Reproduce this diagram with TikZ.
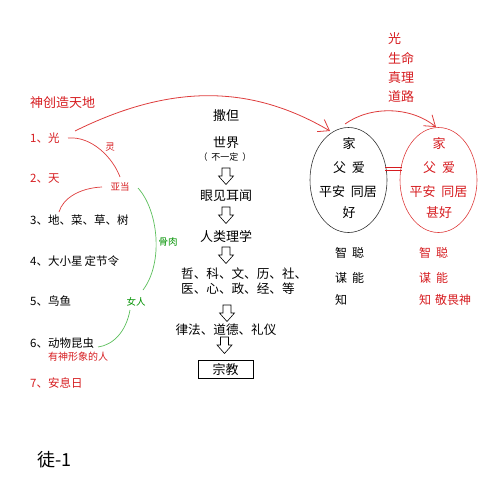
\documentclass[tikz,border=0pt]{standalone}
\usepackage{fontspec}
\setmainfont{Noto Sans CJK SC}
\usetikzlibrary{arrows.meta,shapes.geometric}
\definecolor{tred}{RGB}{214,28,32}
\definecolor{lred}{RGB}{222,60,60}
\definecolor{tgreen}{RGB}{0,145,0}
\definecolor{lgreen}{RGB}{90,190,90}
\begin{document}
\begin{tikzpicture}[x=1pt,y=-1pt,
  lt/.style={inner sep=0pt,anchor=west,font=\fontsize{11.5}{13}\selectfont},
  mt/.style={inner sep=0pt,font=\fontsize{13}{15}\selectfont},
  st/.style={inner sep=0pt,font=\fontsize{9.5}{11}\selectfont},
  rt/.style={inner sep=0pt,anchor=west,font=\fontsize{12}{14}\selectfont},
  oval/.style={ellipse,draw,line width=0.6pt,minimum width=77pt,minimum height=105pt,inner sep=0pt},
  barb/.style={-{Straight Barb[length=10pt,width=14pt,line width=0.8pt]}},
  hollow/.pic={\draw[line width=0.6pt,fill=white] (-4,0)--(4,0)--(4,8)--(7.5,8)--(0,16.5)--(-7.5,8)--(-4,8)--cycle;}
]
\useasboundingbox (0,0) rectangle (500,500);

% left column
\node[lt,tred,font=\fontsize{13}{15}\selectfont] (title) at (30,103) {神创造天地};
\node[lt,tred] (l1) at (30,138) {1、光};
\node[lt,tred] (l2) at (30,179) {2、天};
\node[lt] (l3) at (30,220) {3、地、菜、草、树};
\node[lt] (l4) at (30,261) {4、大小星\hspace{2pt}定节令};
\node[lt] (l5) at (30,301) {5、鸟鱼};
\node[lt] (l6) at (30,343) {6、动物昆虫};
\node[lt,tred,font=\fontsize{10}{12}\selectfont] (l6b) at (48,357) {有神形象的人};
\node[lt,tred] (l7) at (30,383) {7、安息日};
\node[lt,font=\fontsize{18}{20}\selectfont] (tu) at (37,460) {徒-1};

\node[st,tred] (ling) at (110,147) {灵};
\node[st,tred] (yd) at (120,187) {亚当};
\node[st,tgreen] (gr) at (168,242) {骨肉};
\node[st,tgreen] (nr) at (136,302) {女人};

\coordinate (a1s) at (68,138);
\coordinate (a1e) at (120,177);
\coordinate (a2s) at (102,187);
\coordinate (a2e) at (59,212);
\coordinate (g1s) at (138,188);
\coordinate (g1e) at (143,290);
\coordinate (g2s) at (130,310);
\coordinate (g2e) at (98,347);

\draw[lred,line width=0.7pt] (a1s) .. controls (92,136) and (113,158) .. (a1e);
\draw[lred,line width=0.7pt] (a2s) .. controls (80,188) and (63,198) .. (a2e);
\draw[lgreen,line width=0.7pt] (g1s) .. controls (158,210) and (164,262) .. (g1e);
\draw[lgreen,line width=0.7pt] (g2s) .. controls (126,332) and (113,345) .. (g2e);

% middle column
\node[mt] (sa) at (226,116) {撒但};
\node[mt] (sj) at (226,143) {世界};
\node[inner sep=0pt,font=\fontsize{9}{11}\selectfont] (bd) at (225,157) {（\hspace{4pt}不一定\hspace{4pt}）};
\node[mt] (yj) at (226,196) {眼见耳闻};
\node[mt] (rl) at (226,236) {人类理学};
\node[inner sep=0pt,anchor=west,font=\fontsize{12.6}{14}\selectfont] (zx1) at (181,274) {哲、科、文、历、社、};
\node[inner sep=0pt,anchor=west,font=\fontsize{12.6}{14}\selectfont] (zx2) at (181,289) {医、心、政、经、等};
\node[inner sep=0pt,font=\fontsize{12.6}{14}\selectfont] (lf) at (226,330) {律法、道德、礼仪};
\node[mt,draw,line width=0.7pt,minimum width=55pt,minimum height=18pt] (zj) at (225.5,369) {宗教};

\pic at (226,168) {hollow};
\pic at (226,207) {hollow};
\pic at (226,247) {hollow};
\pic at (227,305) {hollow};
\pic at (224.5,337) {hollow};

% right side
\node[oval,draw=black!80] (e1) at (348.5,180) {};
\node[oval,draw=lred] (e2) at (438.5,180) {};

\node[mt] (h1) at (349,144) {家};
\node[mt] (f1) at (349,168) {父\hspace{6pt}爱};
\node[mt] (p1) at (348,192) {平安\hspace{6pt}同居};
\node[mt] (g1) at (349,213) {好};

\node[mt,tred] (h2) at (439,144) {家};
\node[mt,tred] (f2) at (439,168) {父\hspace{6pt}爱};
\node[mt,tred] (p2) at (438.5,192) {平安\hspace{6pt}同居};
\node[mt,tred] (g2) at (439,213) {甚好};

\node[rt] (z1) at (335,253) {智\hspace{5pt}聪};
\node[rt] (m1) at (335,278) {谋\hspace{5pt}能};
\node[rt] (k1) at (335,300) {知};
\node[rt,tred] (z2) at (419,253) {智\hspace{5pt}聪};
\node[rt,tred] (m2) at (419,278) {谋\hspace{5pt}能};
\node[rt,tred] (k2) at (419,300) {知\hspace{4pt}敬畏神};

\node[mt,tred,anchor=west] (r1) at (388,39) {光};
\node[mt,tred,anchor=west] (r2) at (388,58) {生命};
\node[mt,tred,anchor=west] (r3) at (388,78) {真理};
\node[mt,tred,anchor=west] (r4) at (388,97) {道路};

% equals between ovals
\coordinate (q1) at (385,167);
\coordinate (q2) at (402,167);
\coordinate (q3) at (385,170.5);
\coordinate (q4) at (402,170.5);
\draw[tred,line width=0.8pt] (q1) -- (q2);
\draw[tred,line width=0.8pt] (q3) -- (q4);

% big arrows
\coordinate (b1s) at (75,131);
\coordinate (b1e) at (330,131);
\coordinate (b2s) at (345,124);
\coordinate (b2e) at (436,127);
\draw[lred,line width=0.8pt,barb] (b1s) .. controls (170,84) and (250,84) .. (b1e);
\draw[lred,line width=0.8pt,barb] (b2s) .. controls (370,106) and (410,106) .. (b2e);
\end{tikzpicture}
\end{document}
